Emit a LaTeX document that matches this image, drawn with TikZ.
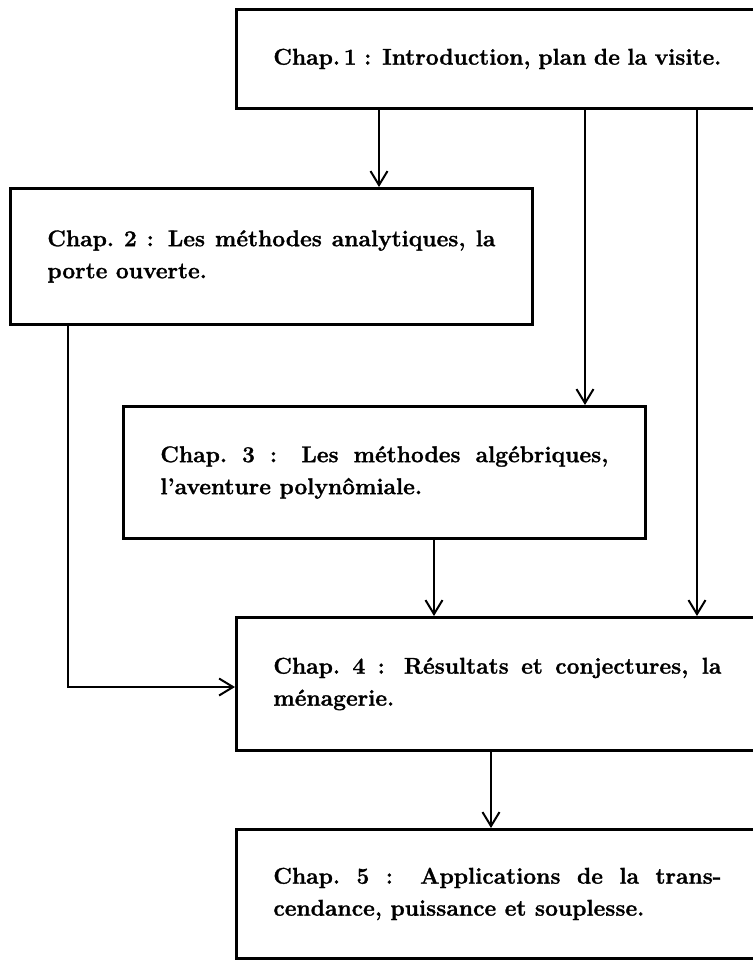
\documentclass[tikz,border=0pt]{standalone}
\usepackage{fontspec}
\setmainfont{Latin Modern Roman}[BoldFeatures={FakeBold=1.2}]
\usetikzlibrary{arrows.meta}
\tikzset{
  chapbox/.style={draw, line width=1.4pt, anchor=north west, text width=224pt,
    inner xsep=18.5pt, inner ysep=0pt, align=justify,
    font=\fontsize{11.4}{16}\selectfont\bfseries},
  arr/.style={line width=1pt, -{Straight Barb[length=7pt,width=8.5pt,line width=1pt]}}
}
\begin{document}
\begin{tikzpicture}[x=0.5pt,y=-0.5pt]
\useasboundingbox (0,0) rectangle (753,960);
\clip (0,0) rectangle (753,960);
\fill[white] (0,0) rectangle (753,960);

\node[chapbox, minimum height=49.5pt] (b1) at (235,8)
  {\sloppy Chap.\,1 : Introduction, plan de la visite.};
\node[chapbox, minimum height=68pt] (b2) at (9,187)
  {\sloppy Chap.\ 2 : Les méthodes analytiques, la\linebreak porte ouverte.};
\node[chapbox, minimum height=66pt] (b3) at (122,405)
  {\sloppy Chap.\ 3 : Les méthodes algébriques,\linebreak l’aventure polynômiale.};
\node[chapbox, minimum height=66.5pt] (b4) at (235,616)
  {\sloppy Chap.\ 4 : Résultats et conjectures, la\linebreak ménagerie.};
\node[chapbox, minimum height=64.5pt] (b5) at (235,828)
  {\sloppy Chap.\ 5 : Applications de la trans-\linebreak cendance, puissance et souplesse.};

\coordinate (c12) at (379,0);
\coordinate (c13) at (585,0);
\coordinate (c14) at (697,0);
\coordinate (c34) at (434,0);
\coordinate (c24) at (68,687);
\coordinate (c45) at (491,0);

\draw[arr] (b1.south -| c12) -- (b2.north -| c12);
\draw[arr] (b1.south -| c13) -- (b3.north -| c13);
\draw[arr] (b1.south -| c14) -- (b4.north -| c14);
\draw[arr] (b3.south -| c34) -- (b4.north -| c34);
\draw[arr] (b2.south -| c24) |- (b4.west |- c24);
\draw[arr] (b4.south -| c45) -- (b5.north -| c45);
\end{tikzpicture}
\end{document}
